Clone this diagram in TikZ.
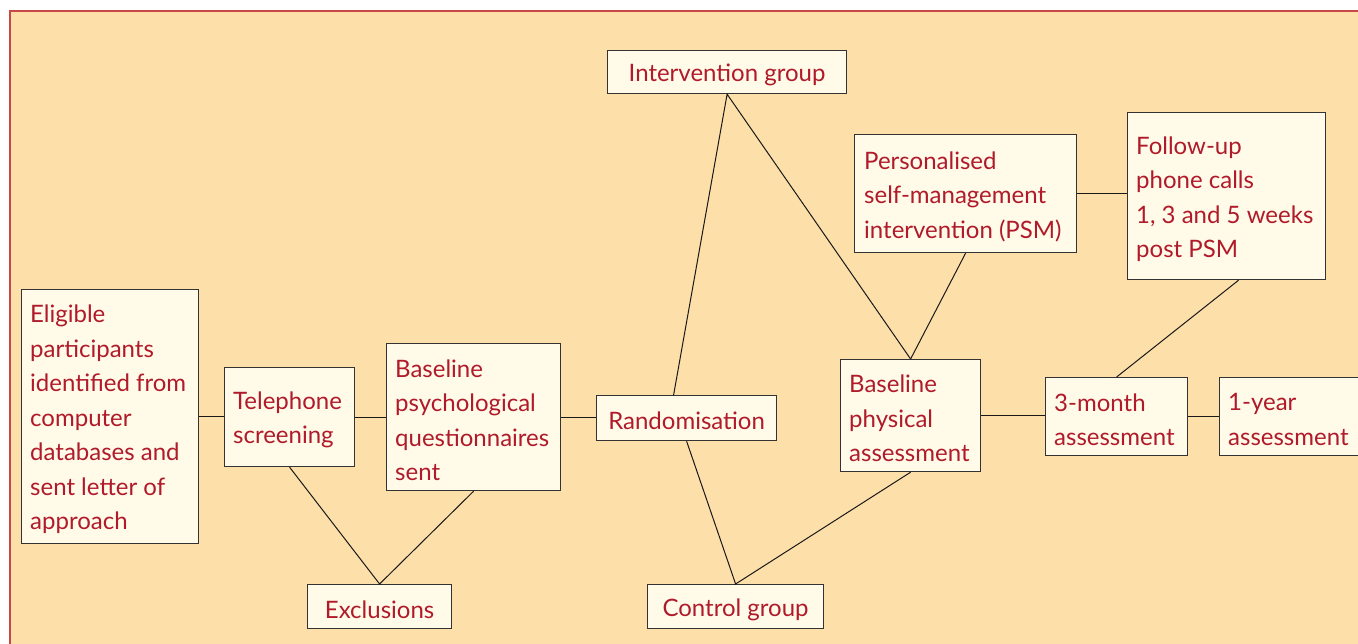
\documentclass[tikz,border=0pt]{standalone}
\usepackage{fontspec}
\setmainfont{Lato}
\definecolor{pagebg}{RGB}{253,223,170}
\definecolor{pageframe}{RGB}{200,72,72}
\definecolor{boxfill}{RGB}{255,251,232}
\definecolor{textred}{RGB}{176,26,42}

\begin{document}
\begin{tikzpicture}[x=1pt,y=-1pt,
  box/.style={draw=black!80, line width=1.2pt, fill=boxfill, anchor=north west,
    inner sep=0pt},
  txt/.style={text=textred, align=left, anchor=west, inner sep=0pt, yshift=-3pt,
    font=\fontsize{24}{34.5}\selectfont},
  ctxt/.style={txt, align=center, anchor=center},
  link/.style={draw=black!90, line width=1pt}]
\useasboundingbox (0,0) rectangle (1358,644);
\filldraw[fill=pagebg, draw=pageframe, line width=1.5pt] (10,11) rectangle (1375,660); % page
% boxes
\node[box, minimum width=177pt, minimum height=254pt] (elig) at (21,289) {};
\node[box, minimum width=130pt, minimum height=99pt] (tel) at (224,367) {};
\node[box, minimum width=174pt, minimum height=147pt] (psych) at (386,343) {};
\node[box, minimum width=180pt, minimum height=45pt] (rand) at (596,395) {};
\node[box, minimum width=239pt, minimum height=43pt] (int) at (607,50) {};
\node[box, minimum width=176pt, minimum height=44pt] (ctrl) at (647,584) {};
\node[box, minimum width=144pt, minimum height=44pt] (excl) at (307,584) {};
\node[box, minimum width=222pt, minimum height=118pt] (psm) at (854,134) {};
\node[box, minimum width=198pt, minimum height=167pt] (fol) at (1127,112) {};
\node[box, minimum width=140pt, minimum height=112pt] (phys) at (840,359) {};
\node[box, minimum width=142pt, minimum height=78pt] (three) at (1045,377) {};
\node[box, minimum width=160pt, minimum height=78pt] (year) at (1219,377) {};
% texts
\node[txt] at ([xshift=9pt]elig.west)
  {Eligible\\participants\\identified from\\computer\\databases and\\sent letter of\\approach};
\node[txt] at ([xshift=9pt]tel.west) {Telephone\\screening};
\node[txt] at ([xshift=9pt]psych.west) {Baseline\\psychological\\questionnaires\\sent};
\node[ctxt] at (rand) {Randomisation};
\node[ctxt] at (int) {Intervention group};
\node[ctxt] at (ctrl) {Control group};
\node[ctxt] at (excl) {Exclusions};
\node[txt] at ([xshift=10pt]psm.west) {Personalised\\self-management\\intervention (PSM)};
\node[txt] at ([xshift=9pt]fol.west) {Follow-up\\phone calls\\1, 3 and 5 weeks\\post PSM};
\node[txt] at ([xshift=9pt]phys.west) {Baseline\\physical\\assessment};
\node[txt] at ([xshift=9pt]three.west) {3-month\\assessment};
\node[txt] at ([xshift=9pt]year.west) {1-year\\assessment};
% connectors
\draw[link] (elig.east) -- (elig.east -| tel.west);
\draw[link] (tel.east) -- (tel.east -| psych.west);
\draw[link] (psych.east) -- (psych.east -| rand.west);
\draw[link] (tel.south) -- (excl.north) -- (psych.south);
\draw[link] ([xshift=-13pt]rand.north) -- (int.south) -- (phys.north);
\draw[link] (rand.south) -- (ctrl.north) -- (phys.south);
\draw[link] (psm.south) -- (phys.north);
\draw[link] (psm.east) -- (psm.east -| fol.west);
\draw[link] (phys.east) -- (phys.east -| three.west);
\draw[link] ([xshift=12pt]fol.south) -- (three.north);
\draw[link] (three.east) -- (three.east -| year.west);
\end{tikzpicture}
\end{document}
